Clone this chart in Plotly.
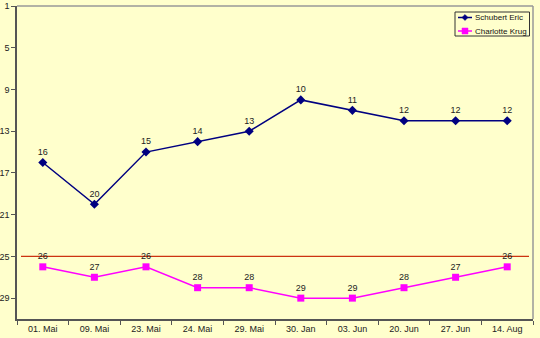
import plotly.graph_objects as go

dates = ["01. Mai", "09. Mai", "23. Mai", "24. Mai", "29. Mai",
         "30. Jan", "03. Jun", "20. Jun", "27. Jun", "14. Aug"]
schubert = [16, 20, 15, 14, 13, 10, 11, 12, 12, 12]
krug = [26, 27, 26, 28, 28, 29, 29, 28, 27, 26]
series_names = ["Schubert Eric", "Charlotte Krug"]
ref_level = 25
y_ticks = [1, 5, 9, 13, 17, 21, 25, 29]

W, H = 540, 338
ML, MR, MT, MB = 17, 7, 6, 19
PW, PH = W - ML - MR, H - MT - MB

bg = "#FFFFCC"
navy = "#000080"
magenta = "#FF00FF"


def px(x):
    return (x - ML) / PW


def py(y):
    return 1 - (y - MT) / PH


fig = go.Figure()
fig.add_trace(go.Scatter(
    x=dates, y=schubert, name=series_names[0],
    mode="lines+markers+text", text=[str(v) for v in schubert],
    textposition="top center", textfont=dict(size=9, color="#222222"),
    line=dict(color=navy, width=1.5),
    marker=dict(symbol="diamond", size=7, color=navy),
    cliponaxis=False, showlegend=False,
))
fig.add_trace(go.Scatter(
    x=dates, y=krug, name=series_names[1],
    mode="lines+markers+text", text=[str(v) for v in krug],
    textposition="top center", textfont=dict(size=9, color="#222222"),
    line=dict(color=magenta, width=1.5),
    marker=dict(symbol="square", size=7, color=magenta),
    cliponaxis=False, showlegend=False,
))

shapes = []
# reference level line
shapes.append(dict(type="line", xref="paper", yref="y", x0=px(21), x1=px(529),
                   y0=ref_level, y1=ref_level,
                   line=dict(color="#CC3311", width=1.2), layer="below"))
# top and right frame
shapes.append(dict(type="line", xref="paper", yref="paper", x0=0, x1=1, y0=1, y1=1,
                   line=dict(color="#999999", width=1.5)))
shapes.append(dict(type="line", xref="paper", yref="paper", x0=1, x1=1, y0=0, y1=1,
                   line=dict(color="#999999", width=1.5)))

# legend box
shapes.append(dict(type="rect", xref="paper", yref="paper",
                   x0=px(455), x1=px(529.5), y0=py(12), y1=py(36),
                   line=dict(color="#333333", width=1), fillcolor=bg))
annotations = []
rows = [(17.5, navy, "diamond"), (31, magenta, "square")]
for name, (ry, col, sym) in zip(series_names, rows):
    shapes.append(dict(type="line", xref="paper", yref="paper",
                       x0=px(458), x1=px(472), y0=py(ry), y1=py(ry),
                       line=dict(color=col, width=1.5)))
    cx, cy = 465, ry
    if sym == "diamond":
        pts = [(cx, cy - 3), (cx + 3, cy), (cx, cy + 3), (cx - 3, cy)]
    else:
        pts = [(cx - 3, cy - 3), (cx + 3, cy - 3), (cx + 3, cy + 3), (cx - 3, cy + 3)]
    path = "M " + " L ".join(f"{px(a):.5f},{py(b):.5f}" for a, b in pts) + " Z"
    shapes.append(dict(type="path", xref="paper", yref="paper", path=path,
                       fillcolor=col, line=dict(color=col, width=0.5)))
    annotations.append(dict(xref="paper", yref="paper", x=px(472.5), y=py(ry),
                            xanchor="left", yanchor="middle", showarrow=False,
                            text=name, font=dict(size=8, color="#111111")))

fig.update_layout(
    width=W, height=H,
    margin=dict(l=ML, r=MR, t=MT, b=MB),
    paper_bgcolor=bg, plot_bgcolor=bg,
    font=dict(family="Liberation Sans, Arial, sans-serif", size=9, color="#222222"),
    showlegend=False,
    shapes=shapes,
    annotations=annotations,
    xaxis=dict(type="category", range=[-0.5, 9.5], showgrid=False,
               showline=True, linecolor="#555555", linewidth=1.5,
               ticks="outside", ticklen=4, tickcolor="#555555",
               tickson="boundaries", zeroline=False, automargin=False,
               tickfont=dict(size=9, color="#222222")),
    yaxis=dict(range=[31, 1], tickvals=y_ticks, showgrid=False,
               showline=True, linecolor="#555555", linewidth=1.5,
               ticks="outside", ticklen=4, tickcolor="#555555",
               zeroline=False, automargin=False,
               tickfont=dict(size=9, color="#222222")),
)

fig.write_html("out.html")
